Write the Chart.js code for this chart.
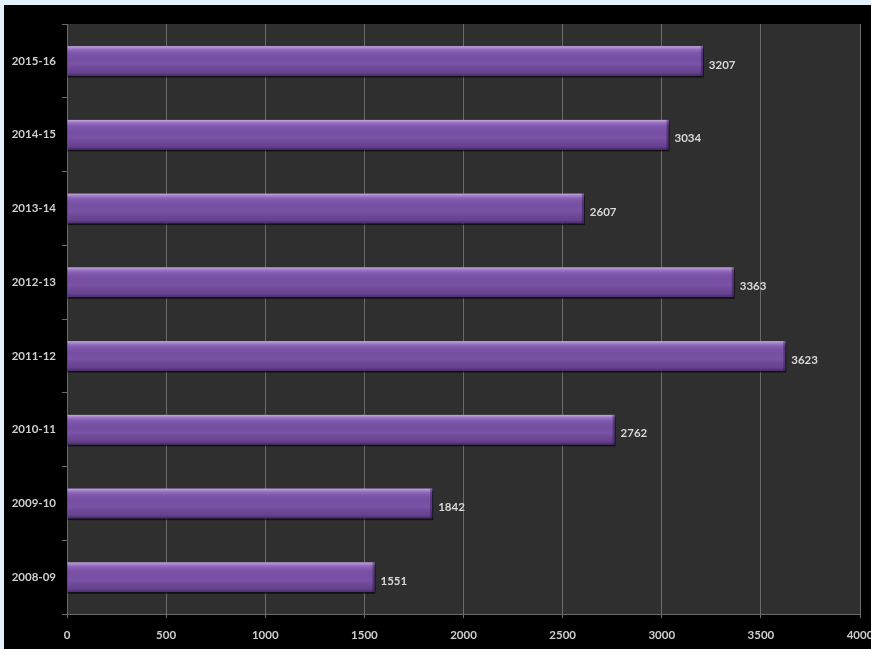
<!DOCTYPE html>
<html>
<head>
<meta charset="utf-8">
<script src="https://cdn.jsdelivr.net/npm/chart.js@4/dist/chart.umd.min.js"></script>
<style>
  html, body { margin: 0; padding: 0; background: #e2f1fb; overflow: hidden; }
  #wrap { position: absolute; left: 4px; top: 5px; width: 880px; height: 644px; background: #000; }
</style>
</head>
<body>
<div id="wrap"><canvas id="chart"></canvas></div>
<script>
// Chart data
const years = ['2015-16', '2014-15', '2013-14', '2012-13', '2011-12', '2010-11', '2009-10', '2008-09'];
const counts = [3207, 3034, 2607, 3363, 3623, 2762, 1842, 1551];
const xTicks = [0, 500, 1000, 1500, 2000, 2500, 3000, 3500, 4000];

const labelFont = { family: 'Lato, "Open Sans", sans-serif', size: 11.5, weight: 'bold' };

// dark plot background
const plotBg = {
    id: 'plotBg',
    beforeDraw(chart) {
        const a = chart.chartArea, ctx = chart.ctx;
        ctx.save();
        ctx.fillStyle = '#2f2f2f';
        ctx.fillRect(a.left, a.top, a.right - a.left, a.bottom - a.top);
        ctx.restore();
    }
};

// shadow + glossy look on bars, and value labels
const barStyle = {
    id: 'barStyle',
    beforeDatasetsDraw(chart) {
        const ctx = chart.ctx;
        ctx.save();
        ctx.fillStyle = 'rgba(0,0,0,0.6)';
        chart.getDatasetMeta(0).data.forEach(bar => {
            const h = bar.height;
            ctx.fillRect(bar.base, bar.y - h / 2 + 2, bar.x - bar.base + 1, h);
        });
        ctx.restore();
    },
    afterDatasetsDraw(chart) {
        const ctx = chart.ctx;
        ctx.save();
        chart.getDatasetMeta(0).data.forEach((bar, i) => {
            const h = bar.height, top = bar.y - h / 2, w = bar.x - bar.base;
            const g = ctx.createLinearGradient(0, top, 0, top + h);
            g.addColorStop(0, 'rgba(210,185,235,0.85)');
            g.addColorStop(0.12, 'rgba(170,135,210,0.5)');
            g.addColorStop(0.25, 'rgba(140,100,190,0.15)');
            g.addColorStop(0.6, 'rgba(0,0,0,0)');
            g.addColorStop(0.9, 'rgba(40,15,70,0.25)');
            g.addColorStop(1, 'rgba(30,10,55,0.55)');
            ctx.fillStyle = g;
            ctx.fillRect(bar.base, top, w, h);
            // right edge bevel
            ctx.fillStyle = 'rgba(40,15,70,0.4)';
            ctx.fillRect(bar.x - 2, top, 2, h);

            ctx.fillStyle = '#d8d8d8';
            ctx.font = 'bold 11.5px Lato, "Open Sans", sans-serif';
            ctx.textAlign = 'left';
            ctx.textBaseline = 'middle';
            ctx.fillText(String(counts[i]), bar.x + 6, bar.y + 4);
        });
        ctx.restore();
    }
};

new Chart(document.getElementById('chart').getContext('2d'), {
    type: 'bar',
    data: {
        labels: years,
        datasets: [{
            data: counts,
            backgroundColor: '#7a52a8',
            borderWidth: 0,
            barPercentage: 0.4,
            categoryPercentage: 1
        }]
    },
    options: {
        indexAxis: 'y',
        responsive: true,
        maintainAspectRatio: false,
        animation: false,
        layout: { padding: { top: 19, right: 24, left: 0, bottom: 0 } },
        plugins: { legend: { display: false }, tooltip: { enabled: false } },
        scales: {
            x: {
                min: 0,
                max: 4000,
                afterBuildTicks(scale) { scale.ticks = xTicks.map(v => ({ value: v })); },
                afterFit(scale) { scale.height = 35; },
                grid: { color: '#6a6a6a', lineWidth: 1, tickLength: 4, drawTicks: true },
                border: { color: '#6a6a6a' },
                ticks: { color: '#cfcfcf', font: labelFont, padding: 10, maxRotation: 0,
                         callback: v => String(v) }
            },
            y: {
                afterFit(scale) { scale.width = 63; },
                grid: { offset: true, drawOnChartArea: false, color: '#6a6a6a', tickLength: 5 },
                border: { color: '#6a6a6a' },
                ticks: { color: '#cfcfcf', font: labelFont, padding: 6 }
            }
        }
    },
    plugins: [plotBg, barStyle]
});
</script>
</body>
</html>
